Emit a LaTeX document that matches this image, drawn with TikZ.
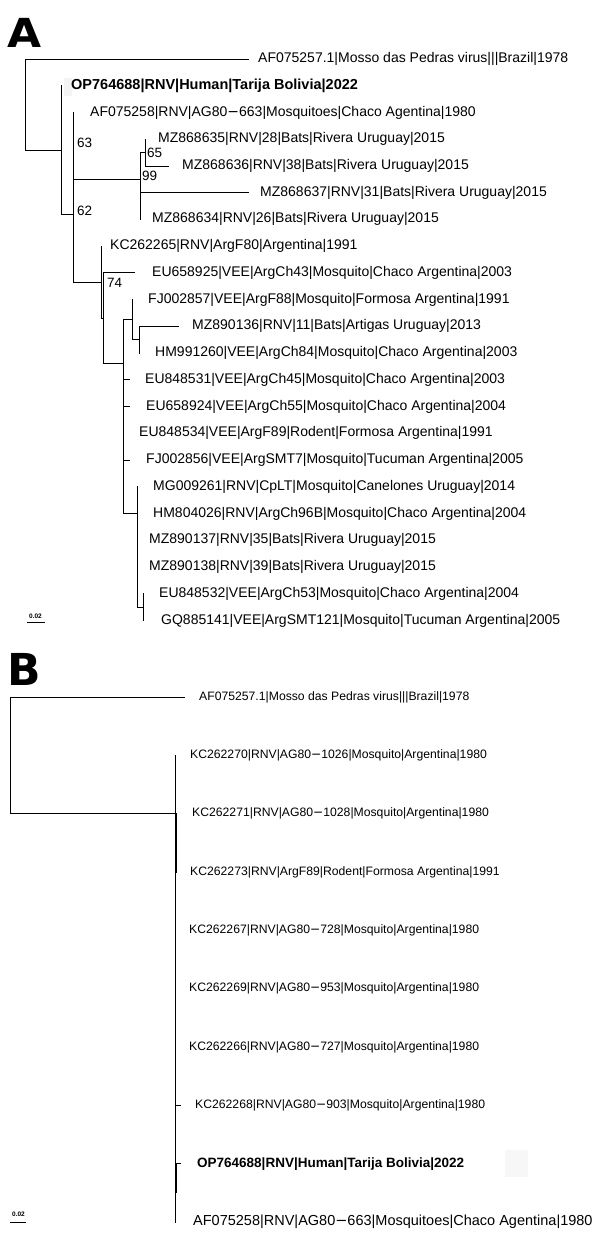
\documentclass[tikz,border=0pt]{standalone}
\usepackage{fontspec}
\setmainfont{Liberation Sans}
\newfontfamily\panelfont{DejaVu Sans}
\tikzstyle{branch} = [
    line width=1pt
]
\tikzstyle{taxon} = [
    anchor=west,
    inner sep=0pt,
    font=\fontsize{14}{14}\selectfont
]
\tikzstyle{taxonbig} = [
    anchor=west,
    inner sep=0pt,
    font=\fontsize{14.5}{14.5}\selectfont
]
\tikzstyle{taxonsmall} = [
    anchor=west,
    inner sep=0pt,
    font=\fontsize{12.2}{12.2}\selectfont
]
\tikzstyle{boot} = [
    anchor=west,
    inner sep=0pt,
    font=\fontsize{13.5}{13.5}\selectfont
]
\tikzstyle{panel} = [
    anchor=north west,
    inner sep=0pt,
    font=\panelfont\bfseries\fontsize{40}{40}\selectfont
]
\tikzstyle{scalebar} = [line width=0.8pt]
\tikzstyle{scaletext} = [
    inner sep=0pt,
    font=\bfseries\fontsize{6.5}{6.5}\selectfont
]

\begin{document}
\begin{tikzpicture}[x=1pt, y=-1pt]
\useasboundingbox (0,0) rectangle (600,1234);

% panel A
\node (panelA) [panel, xscale=1.1, transform shape] at (7,18) {A};

\fill [gray!9] (64,78) rectangle (72,96);

% internal nodes
\coordinate (rootA) at (25,104.4);
\coordinate (inA) at (61,150.1);
\coordinate (n62) at (73,214.4);
\coordinate (n63) at (73,146.3);
\coordinate (n99) at (140,179.3);
\coordinate (n65) at (145,152.6);
\coordinate (n74) at (101,282.5);
\coordinate (nEU) at (103,318);
\coordinate (nVEE) at (123,363);
\coordinate (nFJ) at (132,319.7);
\coordinate (nHM) at (139,339.8);
\coordinate (nMG) at (137,513);
\coordinate (nGQ) at (143,607.2);

% tips
\coordinate (a1) at (249,59);
\coordinate (a2) at (62,85.7);
\coordinate (a3) at (74,112.5);
\coordinate (a4) at (146,139.2);
\coordinate (a5) at (169,166);
\coordinate (a6) at (249,192.7);
\coordinate (a7) at (141,219.4);
\coordinate (a8) at (102,246.2);
\coordinate (a9) at (135,272.9);
\coordinate (a10) at (133,299.7);
\coordinate (a11) at (179,326.4);
\coordinate (a12) at (140,353.1);
\coordinate (a13) at (130,379.9);
\coordinate (a14) at (130,406.6);
\coordinate (a15) at (123.5,433.4);
\coordinate (a16) at (130,460.1);
\coordinate (a17) at (138,486.8);
\coordinate (a18) at (138,513.6);
\coordinate (a19) at (138,540.3);
\coordinate (a20) at (138,567.1);
\coordinate (a21) at (144,593.8);
\coordinate (a22) at (144,620.5);

\node (la1) [taxon] at (258,59) {AF075257.1|Mosso das Pedras virus|||Brazil|1978};
\node (la2) [taxonbig] at (71,85.7) {\bfseries OP764688|RNV|Human|Tarija Bolivia|2022};
\node (la3) [taxon] at (90,112.5) {AF075258|RNV|AG80{\fontspec{DejaVu Sans}\char"2212}663|Mosquitoes|Chaco Agentina|1980};
\node (la4) [taxon] at (158,139.2) {MZ868635|RNV|28|Bats|Rivera Uruguay|2015};
\node (la5) [taxon] at (182,166) {MZ868636|RNV|38|Bats|Rivera Uruguay|2015};
\node (la6) [taxon] at (260,192.7) {MZ868637|RNV|31|Bats|Rivera Uruguay|2015};
\node (la7) [taxon] at (152,219.4) {MZ868634|RNV|26|Bats|Rivera Uruguay|2015};
\node (la8) [taxon] at (110,246.2) {KC262265|RNV|ArgF80|Argentina|1991};
\node (la9) [taxon] at (152,272.9) {EU658925|VEE|ArgCh43|Mosquito|Chaco Argentina|2003};
\node (la10) [taxon] at (148,299.7) {FJ002857|VEE|ArgF88|Mosquito|Formosa Argentina|1991};
\node (la11) [taxon] at (192,326.4) {MZ890136|RNV|11|Bats|Artigas Uruguay|2013};
\node (la12) [taxon] at (155,353.1) {HM991260|VEE|ArgCh84|Mosquito|Chaco Argentina|2003};
\node (la13) [taxon] at (145,379.9) {EU848531|VEE|ArgCh45|Mosquito|Chaco Argentina|2003};
\node (la14) [taxon] at (146,406.6) {EU658924|VEE|ArgCh55|Mosquito|Chaco Argentina|2004};
\node (la15) [taxon] at (139,433.4) {EU848534|VEE|ArgF89|Rodent|Formosa Argentina|1991};
\node (la16) [taxon] at (146,460.1) {FJ002856|VEE|ArgSMT7|Mosquito|Tucuman Argentina|2005};
\node (la17) [taxon] at (153,486.8) {MG009261|RNV|CpLT|Mosquito|Canelones Uruguay|2014};
\node (la18) [taxon] at (153,513.6) {HM804026|RNV|ArgCh96B|Mosquito|Chaco Argentina|2004};
\node (la19) [taxon] at (149,540.3) {MZ890137|RNV|35|Bats|Rivera Uruguay|2015};
\node (la20) [taxon] at (149,567.1) {MZ890138|RNV|39|Bats|Rivera Uruguay|2015};
\node (la21) [taxon] at (159,593.8) {EU848532|VEE|ArgCh53|Mosquito|Chaco Argentina|2004};
\node (la22) [taxon] at (161,620.5) {GQ885141|VEE|ArgSMT121|Mosquito|Tucuman Argentina|2005};

\node (b63) [boot] at (77,142.5) {63};
\node (b62) [boot] at (77,211) {62};
\node (b99) [boot] at (142,176) {99};
\node (b65) [boot] at (147,153) {65};
\node (b74) [boot] at (107,283) {74};

\draw [branch] (rootA) |- (a1);
\draw [branch] (rootA) |- (inA);
\draw [branch] (inA) |- (a2);
\draw [branch] (inA) |- (n62);
\draw [branch] (n62) |- (n63);
\draw [branch] (n62) |- (n74);
\draw [branch] (n63) |- (a3);
\draw [branch] (n63) |- (n99);
\draw [branch] (n99) |- (n65);
\draw [branch] (n99) |- (a6);
\draw [branch] (n99) |- (a7);
\draw [branch] (n65) |- (a4);
\draw [branch] (n65) |- (a5);
\draw [branch] (n74) |- (a8);
\draw [branch] (n74) |- (nEU);
\draw [branch] (nEU) |- (a9);
\draw [branch] (nEU) |- (nVEE);
\draw [branch] (nVEE) |- (nFJ);
\draw [branch] (nVEE) |- (a13);
\draw [branch] (nVEE) |- (a14);
\draw [branch] (nVEE) |- (a15);
\draw [branch] (nVEE) |- (a16);
\draw [branch] (nVEE) |- (nMG);
\draw [branch] (nFJ) |- (a10);
\draw [branch] (nFJ) |- (nHM);
\draw [branch] (nHM) |- (a11);
\draw [branch] (nHM) |- (a12);
\draw [branch] (nMG) |- (a17);
\draw [branch] (nMG) |- (a18);
\draw [branch] (nMG) |- (a19);
\draw [branch] (nMG) |- (a20);
\draw [branch] (nMG) |- (nGQ);
\draw [branch] (nGQ) |- (a21);
\draw [branch] (nGQ) |- (a22);

\coordinate (sa1) at (27,622);
\coordinate (sa2) at (45,622);
\draw [scalebar] (sa1) -- (sa2);
\node (sca) [scaletext] at (35.5,616) {0.02};

% panel B
\node (panelB) [panel, font=\panelfont\bfseries\fontsize{44}{44}\selectfont] at (7,653) {B};

\fill [gray!6] (505,1150) rectangle (528,1177);

\coordinate (rootB) at (10,754.5);
\coordinate (nKC) at (175,813.7);
\coordinate (nKC2) at (176,842.8);
\coordinate (nOP) at (176,1192.8);

\coordinate (b1) at (185,697);
\coordinate (b2) at (175.5,755.3);
\coordinate (b3) at (176.5,813.7);
\coordinate (b4) at (176.5,872);
\coordinate (b5) at (175.5,930.3);
\coordinate (b6) at (175.5,988.7);
\coordinate (b7) at (175.5,1047);
\coordinate (b8) at (181,1105.3);
\coordinate (b9) at (181,1163.7);
\coordinate (b10) at (175.5,1222);

\node (lb1) [taxonsmall] at (199,697) {AF075257.1|Mosso das Pedras virus|||Brazil|1978};
\node (lb2) [taxonsmall] at (190,755.3) {KC262270|RNV|AG80{\fontspec{DejaVu Sans}\char"2212}1026|Mosquito|Argentina|1980};
\node (lb3) [taxonsmall] at (192,813.7) {KC262271|RNV|AG80{\fontspec{DejaVu Sans}\char"2212}1028|Mosquito|Argentina|1980};
\node (lb4) [taxonsmall] at (190,872) {KC262273|RNV|ArgF89|Rodent|Formosa Argentina|1991};
\node (lb5) [taxonsmall] at (189,930.3) {KC262267|RNV|AG80{\fontspec{DejaVu Sans}\char"2212}728|Mosquito|Argentina|1980};
\node (lb6) [taxonsmall] at (189,988.7) {KC262269|RNV|AG80{\fontspec{DejaVu Sans}\char"2212}953|Mosquito|Argentina|1980};
\node (lb7) [taxonsmall] at (189,1047) {KC262266|RNV|AG80{\fontspec{DejaVu Sans}\char"2212}727|Mosquito|Argentina|1980};
\node (lb8) [taxonsmall] at (195,1105.3) {KC262268|RNV|AG80{\fontspec{DejaVu Sans}\char"2212}903|Mosquito|Argentina|1980};
\node (lb9) [taxonsmall, font=\bfseries\fontsize{13.5}{13.5}\selectfont] at (197,1163.7) {OP764688|RNV|Human|Tarija Bolivia|2022};
\node (lb10) [taxonbig] at (193,1222) {AF075258|RNV|AG80{\fontspec{DejaVu Sans}\char"2212}663|Mosquitoes|Chaco Agentina|1980};

\draw [branch] (rootB) |- (b1);
\draw [branch] (rootB) |- (nKC);
\draw [branch] (nKC) |- (b2);
\draw [branch] (nKC) |- (nKC2);
\draw [branch] (nKC2) |- (b3);
\draw [branch] (nKC2) |- (b4);
\draw [branch] (nKC) |- (b5);
\draw [branch] (nKC) |- (b6);
\draw [branch] (nKC) |- (b7);
\draw [branch] (nKC) |- (b8);
\draw [branch] (nKC) |- (nOP);
\draw [branch] (nOP) |- (b9);
\draw [branch] (nKC) |- (b10);

\coordinate (sb1) at (10,1222);
\coordinate (sb2) at (26,1222);
\draw [scalebar] (sb1) -- (sb2);
\node (scb) [scaletext] at (18.5,1214) {0.02};

\end{tikzpicture}
\end{document}
